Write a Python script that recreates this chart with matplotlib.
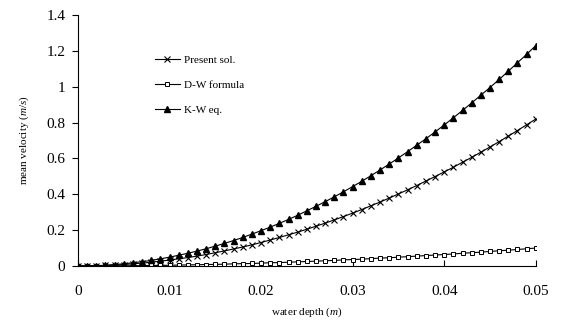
import numpy as np
import matplotlib
matplotlib.use('Agg')
import matplotlib.pyplot as plt

plt.rcParams['font.family'] = ['Liberation Serif', 'DejaVu Serif']
plt.rcParams['mathtext.fontset'] = 'custom'
plt.rcParams['mathtext.rm'] = 'Liberation Serif'
plt.rcParams['mathtext.it'] = 'Liberation Serif:italic'

# water depth (m), 0 .. 0.05 step 0.001
depth = [i / 1000 for i in range(51)]

present = [0.000, 0.000, 0.001, 0.003, 0.005, 0.008, 0.012, 0.016, 0.021, 0.027,
           0.033, 0.040, 0.047, 0.055, 0.064, 0.074, 0.084, 0.095, 0.106, 0.118,
           0.131, 0.145, 0.159, 0.174, 0.189, 0.205, 0.222, 0.239, 0.257, 0.276,
           0.295, 0.315, 0.336, 0.357, 0.379, 0.402, 0.425, 0.449, 0.474, 0.499,
           0.525, 0.551, 0.579, 0.606, 0.635, 0.664, 0.694, 0.725, 0.756, 0.788,
           0.820]

dw = [0.000, 0.000, 0.000, 0.000, 0.001, 0.001, 0.001, 0.002, 0.003, 0.003,
      0.004, 0.005, 0.006, 0.007, 0.008, 0.009, 0.010, 0.012, 0.013, 0.014,
      0.016, 0.018, 0.019, 0.021, 0.023, 0.025, 0.027, 0.029, 0.031, 0.034,
      0.036, 0.038, 0.041, 0.044, 0.046, 0.049, 0.052, 0.055, 0.058, 0.061,
      0.064, 0.067, 0.071, 0.074, 0.077, 0.081, 0.085, 0.088, 0.092, 0.096,
      0.100]

kw = [0.000, 0.000, 0.002, 0.004, 0.008, 0.012, 0.018, 0.024, 0.031, 0.040,
      0.049, 0.060, 0.071, 0.083, 0.096, 0.111, 0.126, 0.142, 0.159, 0.178,
      0.197, 0.217, 0.238, 0.260, 0.283, 0.308, 0.333, 0.359, 0.386, 0.414,
      0.443, 0.473, 0.504, 0.536, 0.569, 0.603, 0.638, 0.674, 0.710, 0.748,
      0.787, 0.827, 0.868, 0.910, 0.953, 0.996, 1.041, 1.087, 1.134, 1.181,
      1.230]

fig = plt.figure(figsize=(5.61, 3.22), dpi=100)
ax = fig.add_axes([0.139, 0.174, 0.816, 0.779])

ax.plot(depth, present, color='black', lw=0.8, marker='x', ms=4.5, mew=0.8,
        label='Present sol.')
ax.plot(depth, dw, color='black', lw=0.8, marker='s', ms=3.5, mew=0.7,
        mfc='white', label='D-W formula')
ax.plot(depth, kw, color='black', lw=0.8, marker='^', ms=4.5,
        label='K-W eq.')

ax.set_xlim(0, 0.05)
ax.set_ylim(0, 1.4)
ax.set_xticks([0, 0.01, 0.02, 0.03, 0.04, 0.05])
ax.set_xticklabels(['0', '0.01', '0.02', '0.03', '0.04', '0.05'])
ax.set_yticks([0, 0.2, 0.4, 0.6, 0.8, 1.0, 1.2, 1.4])
ax.set_yticklabels(['0', '0.2', '0.4', '0.6', '0.8', '1', '1.2', '1.4'])

for s in ['top', 'right']:
    ax.spines[s].set_visible(False)
ax.spines['left'].set_linewidth(0.8)
ax.spines['bottom'].set_linewidth(0.8)

ax.tick_params(axis='x', direction='in', length=4, width=0.8, pad=14, labelsize=11)
ax.tick_params(axis='y', direction='out', length=4, width=0.8, pad=5, labelsize=11)

ax.set_xlabel('water depth ($\\it{m}$)', fontsize=8, labelpad=5)
ax.set_ylabel('mean velocity ($\\it{m/s}$)', fontsize=8, labelpad=11)

ax.legend(loc='upper left', bbox_to_anchor=(0.147, 0.882), frameon=False,
          fontsize=8, handlelength=2.2, labelspacing=1.4, handletextpad=0.4)

fig.savefig('out.png', dpi=100)
